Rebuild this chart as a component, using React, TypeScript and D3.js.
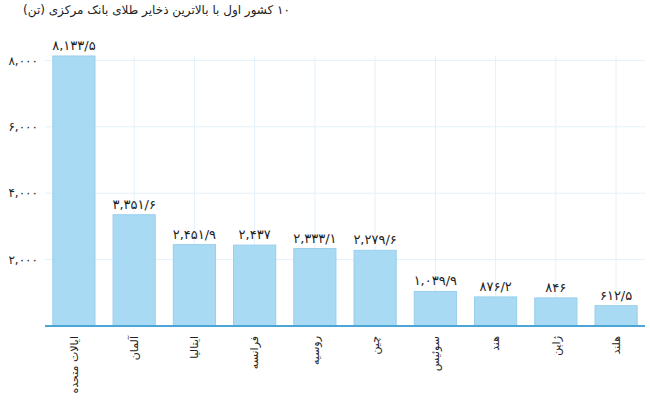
import React from "react";
import * as d3 from "d3";

const categories = ["ایالات متحده", "آلمان", "ایتالیا", "فرانسه", "روسیه", "چین", "سوئیس", "هند", "ژاپن", "هلند"];
const values = [8133.5, 3351.6, 2451.9, 2437, 2333.1, 2279.6, 1039.9, 876.2, 846, 612.5];
const yTicks = [2000, 4000, 6000, 8000];
const title = "۱۰ کشور اول با بالاترین ذخایر طلای بانک مرکزی (تن)";

const faDigits = "۰۱۲۳۴۵۶۷۸۹";
function toFa(s: string) {
  return s.replace(/[0-9]/g, (d) => faDigits[+d]);
}
function fmtValue(v: number) {
  const intPart = Math.floor(v);
  const dec = Math.round((v - intPart) * 10);
  let s = d3.format(",")(intPart);
  if (dec !== 0) s += "/" + dec;
  return toFa(s);
}

const W = 650;
const H = 401;
const left = 45;
const right = 645;
const top = 56;
const bottom = 326;

export default function App() {
  const x = d3.scaleBand<string>().domain(categories).range([left, right]).paddingInner(0.3).paddingOuter(0.13);
  const y = d3.scaleLinear().domain([0, d3.max(values) as number]).range([bottom, top]);
  const font = "'DejaVu Sans', sans-serif";
  return (
    <svg width={W} height={H} style={{ position: "absolute", left: 0, top: 0, background: "#fff" }}>
      <text x={290} y={14} direction="rtl" textAnchor="start" fontFamily={font} fontSize={12} fill="#222">
        {title}
      </text>
      {yTicks.map((t) => (
        <g key={t}>
          <line x1={left} x2={right} y1={y(t)} y2={y(t)} stroke="#e3f1fa" strokeWidth={1} />
          <text x={38} y={y(t)} dy="0.35em" textAnchor="end" fontFamily={font} fontSize={12} fill="#222">
            {toFa(d3.format(",")(t))}
          </text>
        </g>
      ))}
      {categories.map((c) => {
        const cx = (x(c) as number) + x.bandwidth() / 2;
        return <line key={c} x1={cx} x2={cx} y1={top} y2={bottom} stroke="#e3f1fa" strokeWidth={1} />;
      })}
      {categories.map((c, i) => (
        <rect
          key={c}
          x={x(c) as number}
          y={y(values[i])}
          width={x.bandwidth()}
          height={bottom - y(values[i])}
          fill="#a9daf3"
          stroke="#97cfec"
          strokeWidth={1}
        />
      ))}
      {categories.map((c, i) => (
        <text
          key={c}
          x={(x(c) as number) + x.bandwidth() / 2}
          y={y(values[i]) - 6}
          textAnchor="middle"
          fontFamily={font}
          fontSize={13}
          fill="#222"
        >
          {fmtValue(values[i])}
        </text>
      ))}
      <line x1={left} x2={right} y1={bottom} y2={bottom} stroke="#4ba5d6" strokeWidth={2} />
      {categories.map((c) => {
        const cx = (x(c) as number) + x.bandwidth() / 2;
        return (
          <text
            key={c}
            transform={`translate(${cx},${bottom + 10}) rotate(-90)`}
            dy="0.35em"
            textAnchor="end"
            fontFamily={font}
            fontSize={11}
            fill="#222"
          >
            {c}
          </text>
        );
      })}
    </svg>
  );
}
